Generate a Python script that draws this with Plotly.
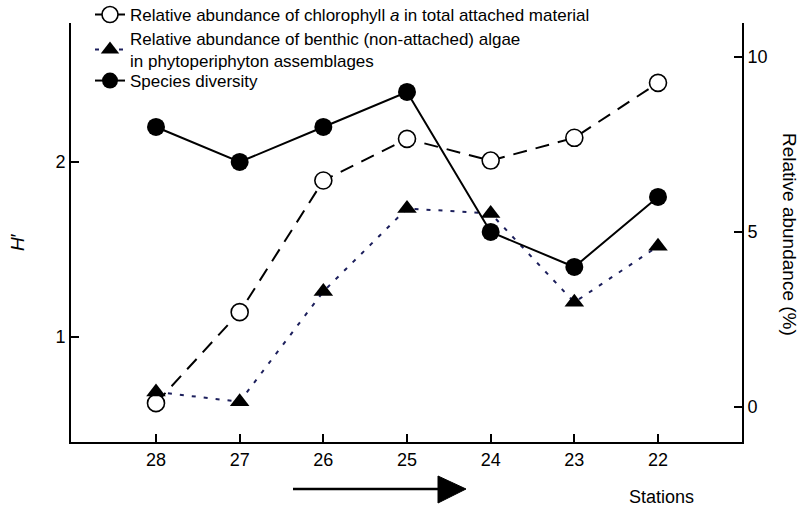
import plotly.graph_objects as go

stations = ["28", "27", "26", "25", "24", "23", "22"]
pos = list(range(len(stations)))

chlorophyll = [0.11, 2.71, 6.47, 7.66, 7.04, 7.69, 9.26]
benthic = [0.43, 0.15, 3.3, 5.67, 5.53, 2.99, 4.59]
diversity = [2.2, 2.0, 2.2, 2.4, 1.6, 1.4, 1.8]

left_ticks = [1, 2]
right_ticks = [0, 5, 10]

FONT = "Arial, Liberation Sans, sans-serif"

L, R, T, B = 71, 58, 23, 65
W, H = 800, 507
pw, ph = W - L - R, H - T - B


def px(x):
    return (x - L) / pw


def py(y):
    return (H - B - y) / ph


fig = go.Figure()

fig.add_trace(go.Scatter(
    x=pos, y=chlorophyll, yaxis="y", mode="lines+markers",
    name="Relative abundance of chlorophyll <i>a</i> in total attached material",
    line=dict(color="black", width=2, dash="14px,9px"),
    marker=dict(symbol="circle", size=17, color="white",
                line=dict(color="black", width=1.6)),
    legend="legend",
))
fig.add_trace(go.Scatter(
    x=pos, y=benthic, yaxis="y", mode="lines+markers",
    name="Relative abundance of benthic (non-attached) algae<br>in phytoperiphyton assemblages",
    line=dict(color="#1c1f5c", width=2, dash="4px,8px"),
    marker=dict(symbol="triangle-up", size=17, color="black"),
    legend="legend2",
))
fig.add_trace(go.Scatter(
    x=pos, y=diversity, yaxis="y2", mode="lines+markers",
    name="Species diversity",
    line=dict(color="black", width=2),
    marker=dict(symbol="circle", size=18, color="black"),
    legend="legend3",
))

axis_common = dict(
    showline=True, linecolor="black", linewidth=2,
    ticks="inside", ticklen=8, tickwidth=2, tickcolor="black",
    showgrid=False, zeroline=False,
    tickfont=dict(family=FONT, size=18, color="black"),
)

legend_common = dict(
    x=px(90), xanchor="left", yanchor="middle",
    bgcolor="rgba(0,0,0,0)",
    font=dict(family=FONT, size=17, color="black"),
)

fig.update_layout(
    width=W, height=H,
    margin=dict(l=L, r=R, t=T, b=B, autoexpand=False),
    paper_bgcolor="white", plot_bgcolor="white",
    font=dict(family=FONT, color="black"),
    xaxis=dict(
        **axis_common,
        range=[-1.016, 7.004],
        tickvals=pos, ticktext=stations,
    ),
    yaxis=dict(
        **axis_common,
        side="right",
        range=[-1.0, 10.97],
        tickvals=right_ticks,
    ),
    yaxis2=dict(
        **axis_common,
        side="left", overlaying="y",
        range=[0.4, 2.794],
        tickvals=left_ticks,
    ),
    legend=dict(**legend_common, y=py(15)),
    legend2=dict(**legend_common, y=py(50)),
    legend3=dict(**legend_common, y=py(81)),
    showlegend=True,
)

fig.add_annotation(
    text="<i>H</i>′", xref="paper", yref="paper", x=0, xshift=17 - L,
    y=py(242), xanchor="center", yanchor="middle", showarrow=False, textangle=-90,
    font=dict(family=FONT, size=19, color="black"),
)
fig.add_annotation(
    text="Relative abundance (%)", xref="paper", yref="paper", x=1, xshift=790 - (W - R),
    y=py(234), xanchor="center", yanchor="middle", showarrow=False, textangle=90,
    font=dict(family=FONT, size=19, color="black"),
)
fig.add_annotation(
    text="Stations", xref="paper", yref="paper", x=px(661), y=py(497),
    xanchor="center", yanchor="middle",
    showarrow=False, font=dict(family=FONT, size=18, color="black"),
)

# direction arrow
fig.add_shape(type="line", xref="paper", yref="paper",
              x0=px(293), x1=px(442), y0=py(489), y1=py(489),
              line=dict(color="black", width=2.5))
fig.add_shape(type="path", xref="paper", yref="paper",
              path=f"M {px(438)} {py(476)} L {px(466)} {py(489)} L {px(438)} {py(503)} Z",
              fillcolor="black", line=dict(color="black", width=1))

fig.write_html(
    "out.html",
    config={"displayModeBar": False},
    post_script="document.body.style.margin='0';document.body.style.overflow='hidden';",
)
